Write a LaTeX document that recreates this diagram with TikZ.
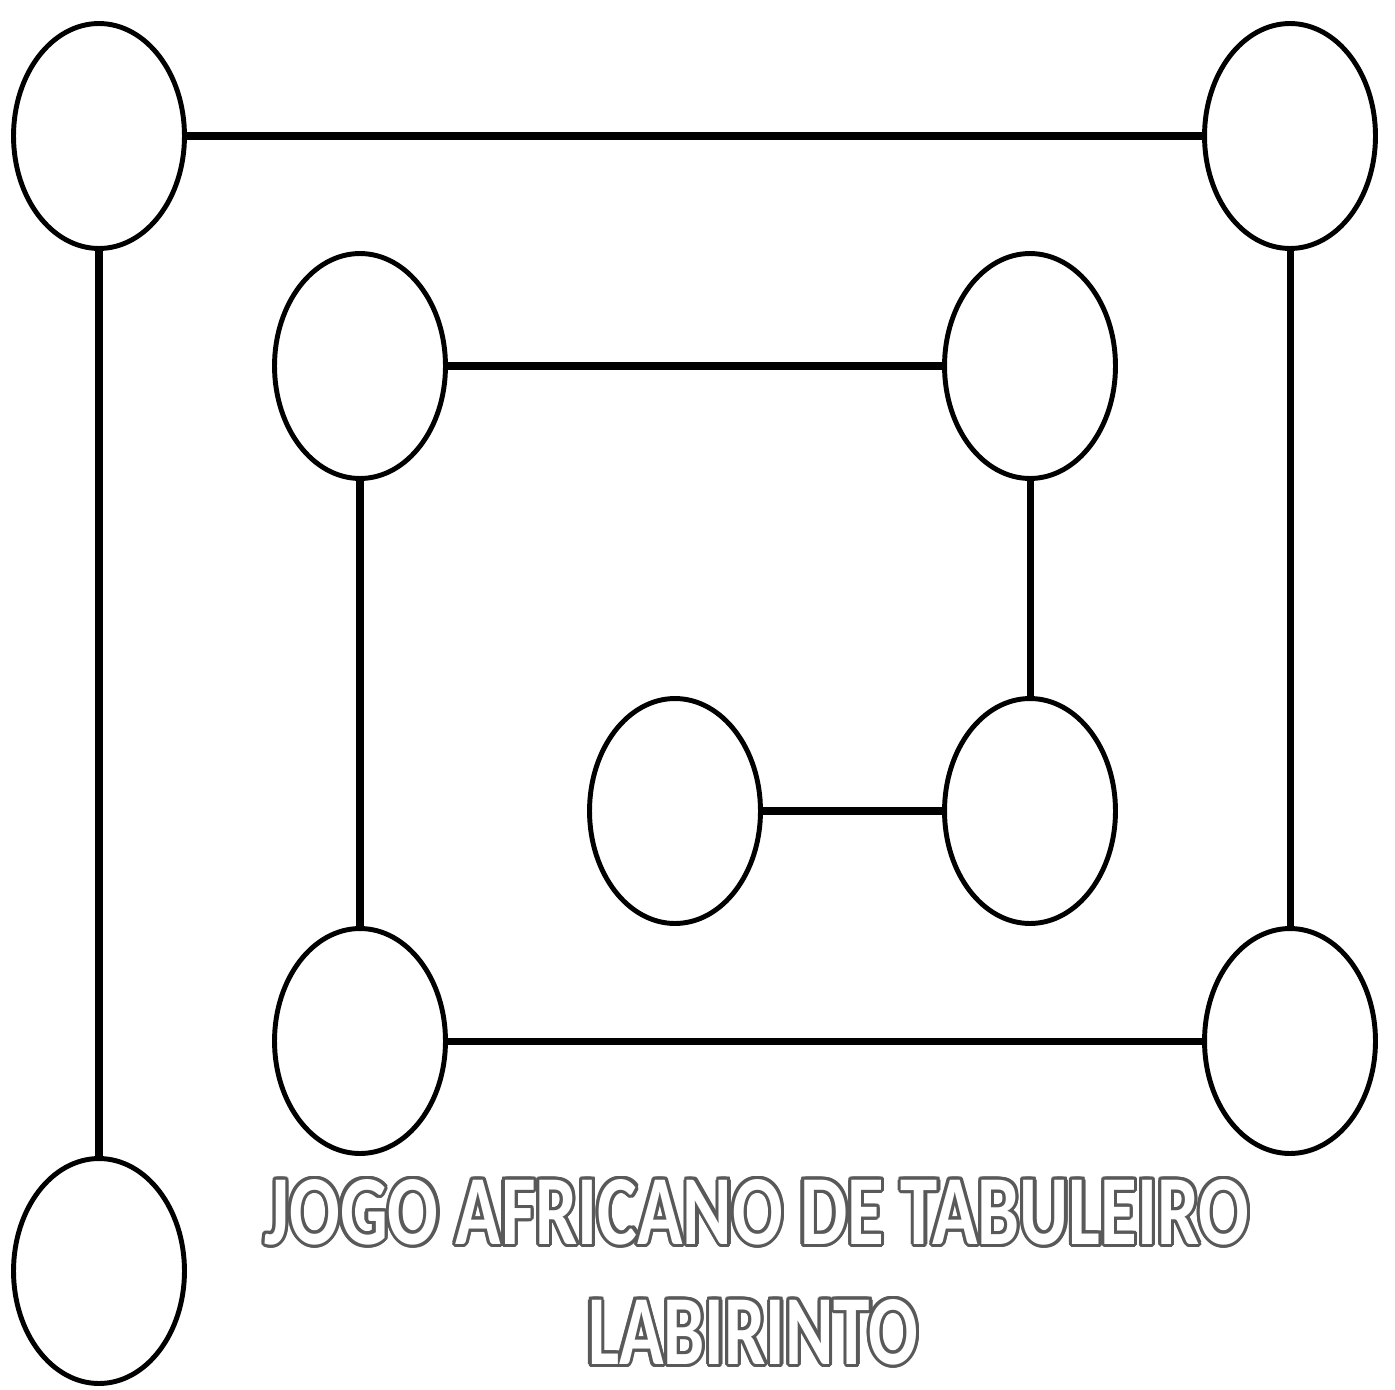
\documentclass[tikz,border=0pt]{standalone}
\usepackage{fontspec}
\setmainfont{Carlito}
\usepackage{graphicx}
\usetikzlibrary{shapes.geometric}
\definecolor{olcol}{gray}{0.35}
\newcommand\olt[1]{\leavevmode\foreach \a in {0,22.5,...,337.5}{\pgfmathsetlengthmacro\dx{2.4pt*cos(\a)}\pgfmathsetlengthmacro\dy{1.8pt*sin(\a)}\rlap{\smash{\kern\dx\raisebox{\dy}{\color{olcol}#1}}}}\color{white}#1}
\begin{document}
\begin{tikzpicture}[x=0.02cm,y=-0.02cm,
  hole/.style={ellipse,draw=black,line width=2.8pt,minimum width=3.42cm,minimum height=4.5cm,inner sep=0pt,fill=white},
  link/.style={line width=4pt,black},
  title/.style={inner sep=0pt,font=\bfseries\fontsize{57}{60}\selectfont}]
\useasboundingbox[fill=white] (0,0) rectangle (1395,1389);
% links drawn first, holes over them
\node[hole] (a) at (99,136) {};
\node[hole] (b) at (1290,136) {};
\node[hole] (c) at (360,366) {};
\node[hole] (d) at (1030,366) {};
\node[hole] (e) at (675,811) {};
\node[hole] (f) at (1030,811) {};
\node[hole] (g) at (360,1041) {};
\node[hole] (h) at (1290,1041) {};
\node[hole] (i) at (99,1271) {};
\draw[link] (a) -- (b);
\draw[link] (a) -- (i);
\draw[link] (b) -- (h);
\draw[link] (c) -- (d);
\draw[link] (c) -- (g);
\draw[link] (d) -- (f);
\draw[link] (e) -- (f);
\draw[link] (g) -- (h);
\node[title] (t1) at (757,1212) {\resizebox{19.7cm}{1.3cm}{\olt{JOGO AFRICANO DE TABULEIRO}}};
\node[title] (t2) at (753,1332) {\resizebox{6.6cm}{1.3cm}{\olt{LABIRINTO}}};
\end{tikzpicture}
\end{document}
